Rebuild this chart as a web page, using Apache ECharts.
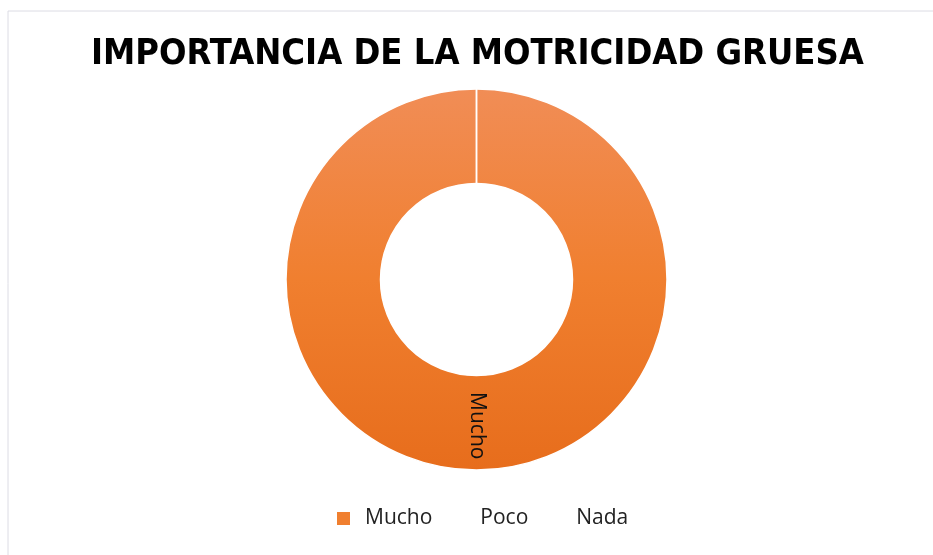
<!DOCTYPE html>
<html lang="es">
<head>
    <meta charset="UTF-8">
    <title>Importancia de la motricidad gruesa</title>
    <script src="https://cdn.jsdelivr.net/npm/echarts@6/dist/echarts.min.js"></script>
    <style>
        html, body { margin: 0; padding: 0; background: #ffffff; }
        #main { width: 933px; height: 555px; }
    </style>
</head>
<body>
<div id="main"></div>
<script>
    // datos
    var categorias = ['Mucho', 'Poco', 'Nada'];
    var valores = [100, 0, 0];

    var myChart = echarts.init(document.getElementById('main'));

    var naranja = new echarts.graphic.LinearGradient(0, 0, 0, 1, [
        { offset: 0, color: '#f18d56' },
        { offset: 0.5, color: '#f07f2f' },
        { offset: 1, color: '#e76d1c' }
    ]);

    var pieData = categorias.map(function (c, i) {
        return { name: c, value: valores[i] };
    });

    var option = {
        backgroundColor: '#ffffff',
        animation: false,
        title: {
            text: 'IMPORTANCIA DE LA MOTRICIDAD GRUESA',
            left: 86,
            top: 32,
            textStyle: {
                fontFamily: "'Liberation Sans Narrow', 'DejaVu Sans Condensed', sans-serif",
                fontWeight: 'bold',
                fontSize: 36,
                color: '#000000'
            }
        },
        legend: {
            bottom: 21,
            left: 330,
            itemWidth: 15,
            itemHeight: 15,
            itemGap: 18,
            icon: 'rect',
            textStyle: { fontFamily: 'Open Sans', fontSize: 21, color: '#222222', padding: [0, 0, 0, 9] },
            data: categorias.map(function (c, i) {
                return i === 0
                    ? { name: c, itemStyle: { color: '#f07f2f' } }
                    : { name: c, itemStyle: { opacity: 0 } };
            })
        },
        graphic: [{
            type: 'rect',
            shape: { x: 8, y: 11, width: 1000, height: 1000 },
            style: { fill: 'none', stroke: '#dcdce4', lineWidth: 1 },
            silent: true
        }],
        series: [{
            type: 'pie',
            center: [476.5, 279.5],
            radius: [96, 190.5],
            startAngle: 90,
            stillShowZeroSum: true,
            minAngle: 0,
            avoidLabelOverlap: false,
            itemStyle: { color: naranja, borderColor: '#ffffff', borderWidth: 1.5 },
            label: {
                show: true,
                position: 'inside',
                rotate: -90,
                fontFamily: 'Open Sans',
                fontSize: 21,
                color: '#111111',
                formatter: function (p) { return p.value > 0 ? p.name : ''; }
            },
            labelLine: { show: false },
            emphasis: { disabled: true },
            data: pieData
        }]
    };

    myChart.setOption(option);
</script>
</body>
</html>
